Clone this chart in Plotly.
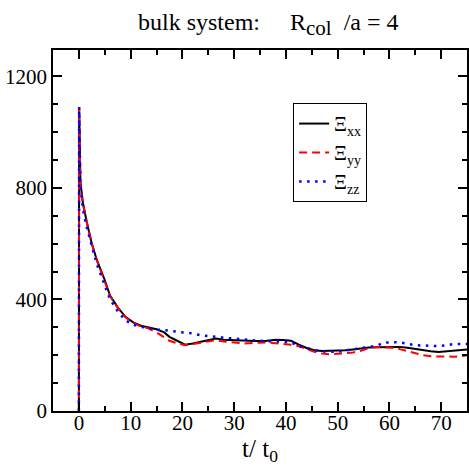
import plotly.graph_objects as go

# time in units of t0
t = [0, 0.05, 0.3, 0.8, 1.5, 2.5, 3.5, 5, 6, 7.5,
     9, 10.5, 12, 13.5, 15, 16.5, 17.5, 19, 20.5, 22,
     23.5, 25, 26.5, 28, 30, 32, 34, 36, 38, 39.5,
     41, 42.5, 44, 45.5, 47, 48.5, 50, 51.5, 53, 54.5,
     56, 57.5, 59, 60.5, 62, 63.5, 65, 66.5, 68, 69.5,
     71, 72.5, 74, 75]

xi_xx = [0, 1090, 820, 745, 680, 600, 540, 470, 415, 372,
         338, 318, 306, 300, 293, 282, 266, 252, 238, 242,
         248, 255, 260, 256, 254, 251, 251, 251, 256, 255,
         252, 238, 226, 218, 215, 216, 216, 218, 221, 225,
         228, 229, 230, 230, 230, 227, 222, 218, 214, 212,
         214, 218, 219, 221]

xi_yy = [0, 1090, 800, 740, 680, 600, 540, 468, 413, 370,
         336, 316, 303, 296, 282, 264, 252, 243, 236, 240,
         245, 250, 254, 249, 245, 242, 244, 246, 243, 241,
         238, 232, 222, 212, 206, 203, 205, 207, 210, 216,
         226, 229, 228, 227, 222, 214, 207, 200, 196, 195,
         195, 195, 197, 200]

xi_zz = [0, 1090, 810, 720, 660, 590, 525, 450, 402, 358,
         325, 310, 302, 298, 292, 290, 288, 284, 280, 278,
         272, 268, 266, 263, 259, 255, 253, 251, 251, 249,
         246, 233, 226, 218, 214, 212, 213, 217, 221, 225,
         228, 234, 245, 247, 246, 240, 236, 235, 233, 233,
         236, 240, 240, 240]

series_names = ["Ξ<sub>xx</sub>", "Ξ<sub>yy</sub>", "Ξ<sub>zz</sub>"]

FONT = "Liberation Serif, Times New Roman, serif"

fig = go.Figure()
fig.add_trace(go.Scatter(x=t, y=xi_xx, mode="lines", name=series_names[0],
                         line=dict(color="black", width=2)))
fig.add_trace(go.Scatter(x=t, y=xi_yy, mode="lines", name=series_names[1],
                         line=dict(color="red", width=2, dash="8px,5px")))
fig.add_trace(go.Scatter(x=t, y=xi_zz, mode="lines", name=series_names[2],
                         line=dict(color="blue", width=2.5, dash="2.5px,5.5px")))

fig.update_layout(
    width=469, height=472,
    margin=dict(l=53, r=2, t=50, b=61, autoexpand=False),
    paper_bgcolor="white", plot_bgcolor="white",
    font=dict(family=FONT, size=21, color="black"),
    title=dict(text="bulk system:&nbsp;&nbsp;&nbsp;&nbsp; R<sub><span style='font-size:21px'>col</span></sub>&nbsp; /a = 4",
               x=0.52, xref="paper", xanchor="center",
               y=0.955, yref="container", yanchor="middle",
               font=dict(family=FONT, size=24)),
    showlegend=True,
    legend=dict(x=0.58, y=0.853, xanchor="left", yanchor="top",
                bordercolor="black", borderwidth=1, bgcolor="white",
                font=dict(family=FONT, size=20), tracegroupgap=0,
                itemwidth=30),
)

fig.update_xaxes(range=[-5, 75], dtick=10, tick0=0, automargin=False,
                 ticks="inside", ticklen=9, tickwidth=1.5, tickcolor="black",
                 showline=True, linecolor="black", linewidth=1.5, mirror="ticks",
                 showgrid=False, zeroline=False, ticklabelstandoff=-8,
                 minor=dict(dtick=5, ticks="inside", ticklen=5, tickwidth=1.5,
                            tickcolor="black", showgrid=False),
                 tickfont=dict(family=FONT, size=21),
                 title=dict(text="t/ t<sub>0</sub>", font=dict(family=FONT, size=25),
                            standoff=2))
fig.update_yaxes(range=[0, 1295], dtick=400, tick0=0, automargin=False,
                 ticks="inside", ticklen=9, tickwidth=1.5, tickcolor="black",
                 showline=True, linecolor="black", linewidth=1.5, mirror="ticks",
                 showgrid=False, zeroline=False,
                 minor=dict(dtick=100, ticks="inside", ticklen=5, tickwidth=1.5,
                            tickcolor="black", showgrid=False),
                 tickfont=dict(family=FONT, size=21))

fig.write_html("out.html", config={"displayModeBar": False},
               post_script="document.body.style.margin='0';")
